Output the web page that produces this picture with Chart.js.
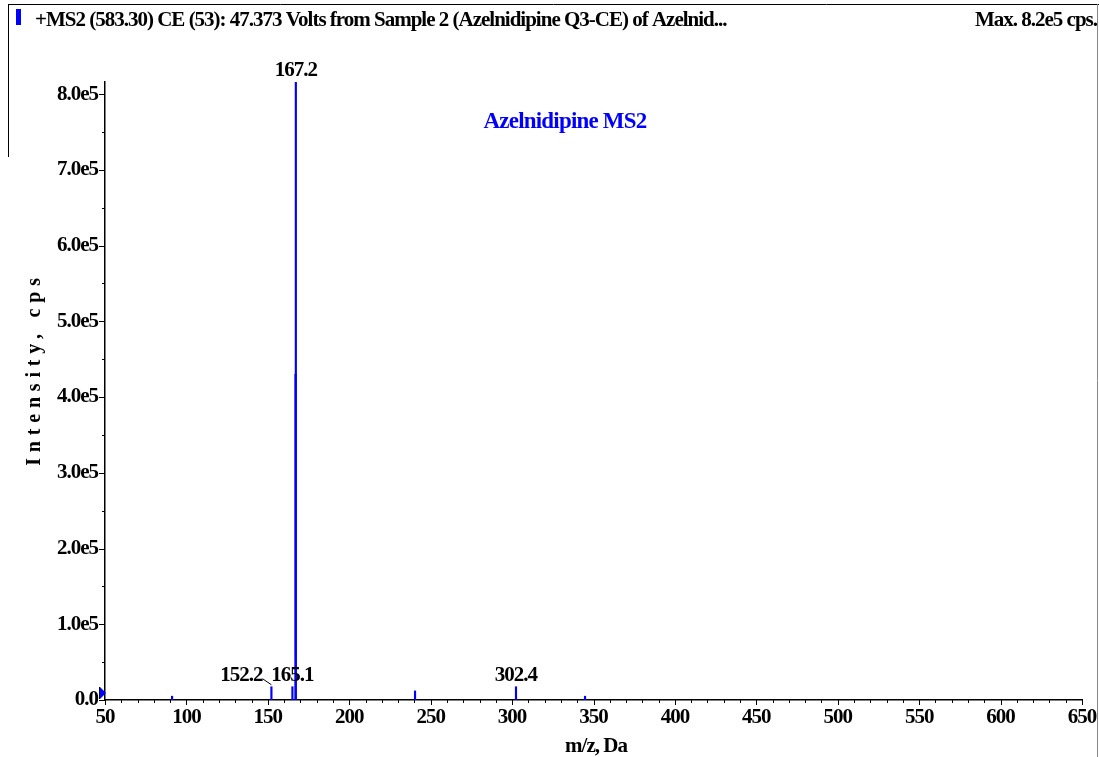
<!DOCTYPE html>
<html>
<head>
<meta charset="utf-8">
<script src="https://cdn.jsdelivr.net/npm/chart.js@4/dist/chart.umd.min.js"></script>
<style>
  html, body { margin: 0; padding: 0; background: #fff; overflow: hidden; }
  #wrap { position: relative; width: 1099px; height: 757px; }
  canvas { display: block; }
</style>
</head>
<body>
<div id="wrap"><canvas id="spectrum" width="1099" height="757"></canvas></div>
<script>
// Product-ion spectrum: centroid sticks (m/z, intensity in cps)
const mzValues    = [91.2, 152.2, 165.1, 167.0, 167.2, 240.4, 302.4, 344.8];
const intensities = [5000, 17500, 17500, 430000, 816000, 12000, 17500, 5000];

// Peaks that carry an m/z annotation
const labeledPeaks = [152.2, 165.1, 167.2, 302.4];

// Axis ranges and tick labels
const xRange = [50, 650];
const yRange = [0, 816000];
const xTickLabels = ['50', '100', '150', '200', '250', '300', '350', '400', '450', '500', '550', '600', '650'];
const yTickLabels = ['0.0', '1.0e5', '2.0e5', '3.0e5', '4.0e5', '5.0e5', '6.0e5', '7.0e5', '8.0e5'];
const xMinorStep = 10;
const yMinorStep = 50000;

// Texts
const headerText = '+MS2 (583.30) CE (53): 47.373 Volts from Sample 2 (Azelnidipine Q3-CE) of Azelnid...';
const maxText = 'Max. 8.2e5 cps.';
const noteText = 'Azelnidipine MS2';
const xTitle = 'm/z, Da';
const yTitle = 'Intensity, cps';

const SERIF = '"Liberation Serif", "Times New Roman", serif';
const BLUE = '#0000ff';

// label offsets (px) for annotations that are pushed sideways to avoid overlap
const labelShift = { '152.2': -30 };

function drawText(ctx, text, x, y, opts) {
  ctx.save();
  ctx.font = opts.font;
  ctx.fillStyle = opts.color || '#000';
  ctx.letterSpacing = opts.spacing || '0px';
  ctx.textBaseline = opts.baseline || 'alphabetic';
  ctx.textAlign = 'left';
  const w = ctx.measureText(text).width;
  let sx = x;
  if (opts.align === 'center') sx = x - w / 2;
  else if (opts.align === 'right') sx = x - w;
  if (opts.rotate) {
    ctx.translate(x, y);
    ctx.rotate(opts.rotate);
    ctx.fillText(text, -w / 2, 0);
  } else {
    ctx.fillText(text, sx, y);
  }
  ctx.restore();
  return w;
}

function stepValues(min, max, step) {
  const out = [];
  for (let v = min; v <= max + 1e-9; v += step) out.push({ value: v });
  return out;
}

const condensed = {
  id: 'condensed',
  beforeUpdate(chart) { chart.ctx.letterSpacing = '-1px'; },
  beforeDraw(chart) { chart.ctx.letterSpacing = '-1px'; }
};

const decorations = {
  id: 'decorations',
  afterDraw(chart) {
    const ctx = chart.ctx;
    const xs = chart.scales.x, ys = chart.scales.y;
    const area = chart.chartArea;

    ctx.save();
    ctx.letterSpacing = '0px';
    ctx.strokeStyle = '#000';
    ctx.lineWidth = 1;

    // tick marks: x major every 50, minor every 10; y major every 1e5, minor every 5e4
    xs.ticks.forEach(t => {
      const px = Math.round(xs.getPixelForValue(t.value)) + 0.5;
      const len = t.value % 50 === 0 ? 5 : 3;
      ctx.beginPath();
      ctx.moveTo(px, area.bottom);
      ctx.lineTo(px, area.bottom + len);
      ctx.stroke();
    });
    ys.ticks.forEach(t => {
      const py = Math.round(ys.getPixelForValue(t.value)) + 0.5;
      const len = t.value % 100000 === 0 ? 6 : 3;
      ctx.beginPath();
      ctx.moveTo(area.left, py);
      ctx.lineTo(area.left - len, py);
      ctx.stroke();
    });

    // zero marker on the intensity axis
    const y0 = ys.getPixelForValue(0);
    ctx.fillStyle = BLUE;
    ctx.beginPath();
    ctx.moveTo(area.left - 5, y0 - 13);
    ctx.lineTo(area.left + 1, y0 - 7);
    ctx.lineTo(area.left - 5, y0 - 1);
    ctx.closePath();
    ctx.fill();
    ctx.beginPath();
    ctx.moveTo(area.left - 5.5, y0 - 13);
    ctx.lineTo(area.left - 5.5, y0 - 1);
    ctx.stroke();

    // pane frame
    ctx.strokeStyle = '#000';
    ctx.beginPath();
    ctx.moveTo(8, 4.5); ctx.lineTo(1099, 4.5);
    ctx.moveTo(8.5, 4); ctx.lineTo(8.5, 157);
    ctx.stroke();
    ctx.strokeStyle = '#888';
    ctx.beginPath();
    ctx.moveTo(1097.5, 4); ctx.lineTo(1097.5, 757);
    ctx.stroke();

    // header
    ctx.fillStyle = BLUE;
    ctx.fillRect(16, 9, 5, 16);
    ctx.restore();

    drawText(ctx, headerText, 35, 26, { font: 'bold 21px ' + SERIF, spacing: '-1px' });
    drawText(ctx, maxText, 1097, 26, { font: 'bold 21px ' + SERIF, spacing: '-1px', align: 'right' });

    // in-plot note
    drawText(ctx, noteText, 565, 128, { font: 'bold 23px ' + SERIF, spacing: '-0.8px', align: 'center', color: BLUE });

    // axis titles
    drawText(ctx, xTitle, 596, 752, { font: 'bold 21px ' + SERIF, spacing: '-1px', align: 'center' });
    drawText(ctx, yTitle, 40, 369, { font: 'bold 20px ' + SERIF, spacing: '5.8px', rotate: -Math.PI / 2 });

    // peak annotations
    labeledPeaks.forEach(mz => {
      const i = mzValues.indexOf(mz);
      const label = mz.toFixed(1);
      const px = xs.getPixelForValue(mz);
      const py = ys.getPixelForValue(intensities[i]);
      const shift = labelShift[label] || 0;
      const w = drawText(ctx, label, px + shift, py - 6, { font: 'bold 21px ' + SERIF, spacing: '-1px', align: 'center' });
      if (shift) {
        ctx.save();
        ctx.strokeStyle = '#000';
        ctx.lineWidth = 1;
        ctx.beginPath();
        ctx.moveTo(px + shift + w / 2, py - 8);
        ctx.lineTo(px, py - 2);
        ctx.stroke();
        ctx.restore();
      }
    });
  }
};

const fmtY = v => {
  const idx = Math.round(v / 100000);
  return (Math.abs(v - idx * 100000) < 1 && idx < yTickLabels.length) ? yTickLabels[idx] : '';
};
const fmtX = v => {
  const idx = xTickLabels.indexOf(String(Math.round(v)));
  return (Math.abs(v - Math.round(v)) < 1e-6 && idx >= 0) ? xTickLabels[idx] : '';
};

new Chart(document.getElementById('spectrum'), {
  type: 'bar',
  data: {
    datasets: [{
      data: mzValues.map((mz, i) => ({ x: mz, y: intensities[i] })),
      backgroundColor: BLUE,
      borderWidth: 0,
      barThickness: 1.5
    }]
  },
  options: {
    responsive: false,
    devicePixelRatio: 1,
    animation: false,
    events: [],
    layout: { padding: { top: 82, right: 17, left: 0, bottom: 0 } },
    plugins: { legend: { display: false }, tooltip: { enabled: false }, title: { display: false } },
    scales: {
      x: {
        type: 'linear',
        min: xRange[0],
        max: xRange[1],
        offset: false,
        grid: { display: false, drawTicks: false },
        border: { display: true, color: '#000', width: 1.5 },
        ticks: {
          autoSkip: false,
          maxRotation: 0,
          padding: 5,
          color: '#000',
          font: { family: SERIF, size: 21, weight: 'bold' },
          callback: fmtX
        },
        afterBuildTicks(s) { s.ticks = stepValues(xRange[0], xRange[1], xMinorStep); },
        afterFit(s) { s.height = 57; s.paddingLeft = 0; s.paddingRight = 0; }
      },
      y: {
        type: 'linear',
        min: yRange[0],
        max: yRange[1],
        grid: { display: false, drawTicks: false },
        border: { display: true, color: '#000', width: 1.5 },
        ticks: {
          autoSkip: false,
          padding: 7,
          color: '#000',
          font: { family: SERIF, size: 21, weight: 'bold' },
          callback: fmtY
        },
        afterBuildTicks(s) { s.ticks = stepValues(0, 800000, yMinorStep); },
        afterFit(s) { s.width = 105; s.paddingTop = 0; s.paddingBottom = 0; }
      }
    }
  },
  plugins: [condensed, decorations]
});
</script>
</body>
</html>
